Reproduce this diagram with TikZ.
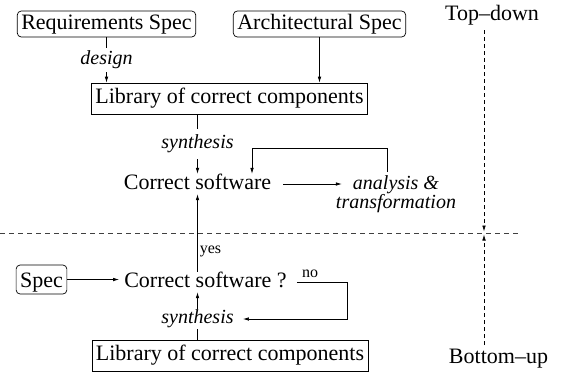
\documentclass[tikz,border=0pt]{standalone}
\usepackage{fontspec}
\setmainfont{Liberation Serif}
\usetikzlibrary{arrows.meta,calc}
\begin{document}
\begin{tikzpicture}[x=1pt,y=-1pt,
  every node/.style={inner sep=0pt},
  main/.style={font=\fontsize{22}{24}\selectfont, text height=15pt, text depth=5pt},
  rbox/.style={main, draw, rounded corners=4pt, inner xsep=4pt, inner ysep=3pt, line width=0.7pt},
  lbox/.style={main, draw, text depth=6pt, inner xsep=4pt, inner ysep=5pt, line width=0.7pt},
  lbl/.style={font=\itshape\fontsize{20}{16}\selectfont, fill=white, inner xsep=1pt},
  small/.style={font=\fontsize{16}{18}\selectfont},
  arr/.style={line width=0.7pt, -{Latex[length=6pt,width=3.6pt]}},
  hdash/.style={line width=0.7pt, black!75, dash pattern=on 5pt off 4pt},
  vdash/.style={line width=0.7pt, dash pattern=on 4pt off 3pt, -{Latex[length=6pt,width=3.6pt]}},
]
\useasboundingbox (0,0) rectangle (565,373);

% nodes
\node[rbox, anchor=base] (req) at (106.5,29) {Requirements Spec};
\node[rbox, anchor=base] (arch) at (319.5,29) {Architectural Spec};
\node[lbox, anchor=base] (lib1) at (229.5,103) {Library of correct components};
\node[main, anchor=base] (cs1) at (197.5,189) {Correct software};
\node[font=\itshape\fontsize{20}{16}\selectfont, align=center, anchor=north, inner sep=3pt] (ana) at (396,172) {analysis \&\\transformation};
\node[main, anchor=base] (td) at (492,20) {Top--down};
\node[main, anchor=base] (bu) at (498.5,363) {Bottom--up};
\node[main, anchor=base] (cs2) at (205.5,287) {Correct software ?};
\node[rbox, anchor=base, text height=17pt, text depth=2pt, inner ysep=5pt] (spec) at (41.5,287) {Spec};
\node[lbox, anchor=base] (lib2) at (230,360) {Library of correct components};
\node[small, anchor=base] (no) at (310,277) {no};

% coordinates
\coordinate (fbR) at (387,148);
\coordinate (fbL) at (252,148);
\coordinate (noR) at (347,319);
\coordinate (hl) at (0,233);
\coordinate (hr) at (518,233);
\coordinate (vt) at (484,30);
\coordinate (vb) at (484,345);
\coordinate (hc) at (484,233);

% top part
\draw[arr] (req.south) -- node[lbl, inner ysep=3pt] {design} (req.south |- lib1.north);
\draw[arr] (arch.south) -- (arch.south |- lib1.north);
\draw[arr] (cs1.north |- lib1.south) -- node[lbl, inner ysep=6pt] {synthesis} (cs1.north);
\draw[arr, shorten <=12pt] (cs1.east) -- ($(ana.west |- cs1.east)+(9,0)$);
\draw[arr] (ana.north -| fbR) -- (fbR) -- (fbL) -- (fbL |- cs1.north);

% separator
\draw[hdash] (hl) -- (hr);
\draw[vdash, shorten >=1.5pt] (vt) -- (hc);
\draw[vdash, shorten >=1.5pt] (vb) -- (hc);

% bottom part
\draw[arr] (cs2.north -| cs1) -- node[pos=0.26, right=2pt, small] {yes} (cs1.south);
\draw[arr, shorten >=5pt] (spec.east) -- (spec.east -| cs2.west);
\draw[arr] (lib2.north -| cs1) -- node[lbl, inner ysep=1pt, pos=0.44] (syn2) {synthesis} (cs2.south -| cs1);
\draw[arr, shorten <=10pt, shorten >=8pt] (cs2.east) -| (noR) -- (noR -| syn2.east);
\end{tikzpicture}
\end{document}
